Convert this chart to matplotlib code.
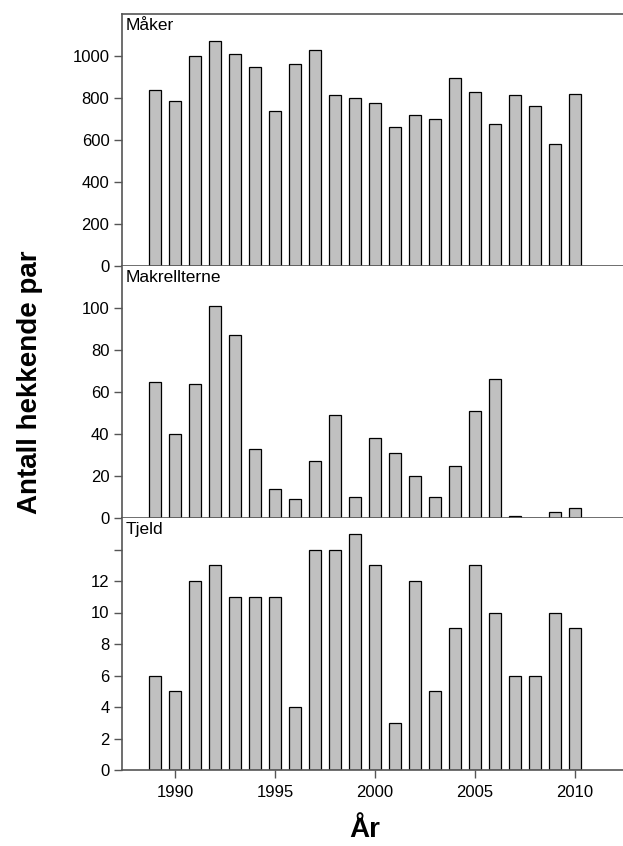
#!/usr/bin/env python3
"""Hekkende par per år for tre arter, tre paneler over hverandre."""

import matplotlib
matplotlib.use("Agg")
import matplotlib.pyplot as plt

plt.rcParams['font.family'] = ['Liberation Sans', 'DejaVu Sans']

# Data
years = list(range(1989, 2011))
maker = [838, 784, 1000, 1070, 1010, 948, 738, 960, 1030, 813, 800,
         775, 663, 717, 698, 894, 827, 675, 816, 762, 583, 817]
makrellterne = [65, 40, 64, 101, 87, 33, 14, 9, 27, 49, 10,
                38, 31, 20, 10, 25, 51, 66, 1, 0, 3, 5]
tjeld = [6, 5, 12, 13, 11, 11, 11, 4, 14, 14, 15,
         13, 3, 12, 5, 9, 13, 10, 6, 6, 10, 9]

panels = [
    ("Måker", maker, 1200, list(range(0, 1001, 200)), [str(v) for v in range(0, 1001, 200)]),
    ("Makrellterne", makrellterne, 120, list(range(0, 101, 20)), [str(v) for v in range(0, 101, 20)]),
    ("Tjeld", tjeld, 16, list(range(0, 15, 2)), [str(v) for v in range(0, 13, 2)] + [""]),
]
xticks = [1990, 1995, 2000, 2005, 2010]

W, H = 623, 846
fig = plt.figure(figsize=(W / 100, H / 100), dpi=100)

left_px, top_px, panel_h = 122, 14, 252
spine_col = "#555555"

axes = []
for i, (name, vals, ymax, ticks, labels) in enumerate(panels):
    top = top_px + i * panel_h
    ax = fig.add_axes([left_px / W, 1 - (top + panel_h) / H, 1 - left_px / W, panel_h / H])
    ax.bar(years, vals, width=0.62, color="#c0c0c0", edgecolor="black", linewidth=0.9, zorder=2)
    ax.set_xlim(1987.35, 2012.4)
    ax.set_ylim(0, ymax)
    ax.set_yticks(ticks)
    ax.set_yticklabels(labels)
    ax.spines['right'].set_visible(False)
    ax.spines['top'].set_visible(i == 0)
    for s in ('left', 'bottom', 'top'):
        ax.spines[s].set_color(spine_col)
        ax.spines[s].set_linewidth(1.2)
        ax.spines[s].set_zorder(3)
    ax.tick_params(axis='y', direction='out', length=6, width=1, color=spine_col,
                   labelsize=12, pad=3)
    ax.text(0.008, 0.985, name, transform=ax.transAxes, ha='left', va='top', fontsize=12.5)
    if i < 2:
        ax.set_xticks([])
    else:
        ax.set_xticks(xticks)
        ax.tick_params(axis='x', direction='out', length=6, width=1, color=spine_col,
                       labelsize=12, pad=5)
    axes.append(ax)

fig.text(30 / W, 1 - 382 / H, "Antall hekkende par", rotation=90, ha='center', va='center',
         fontsize=20, fontweight='bold')
fig.text(365 / W, 1 - 830 / H, "År", ha='center', va='center', fontsize=20, fontweight='bold')

fig.savefig("out.png", dpi=100)
plt.close(fig)
